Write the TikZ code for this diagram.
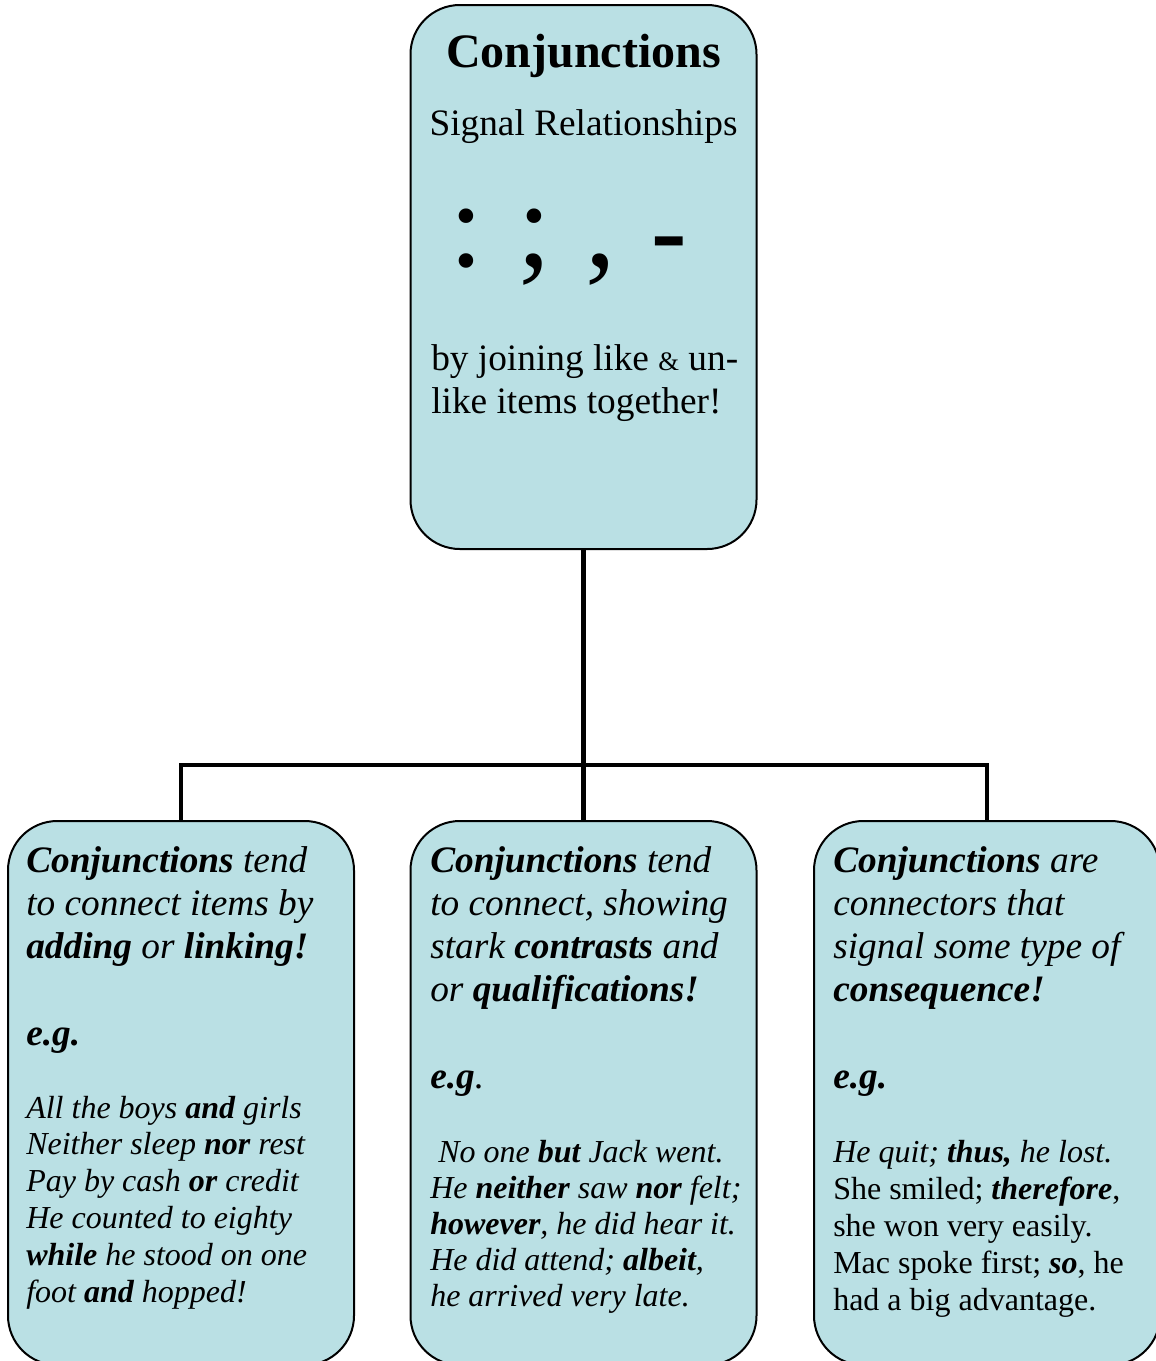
\documentclass[tikz,border=0pt]{standalone}
\usepackage{fontspec}
\setmainfont{Liberation Serif}
\definecolor{boxfill}{RGB}{186,224,228}
\begin{document}
\begin{tikzpicture}[x=0.75pt,y=-0.75pt,
  box/.style={draw=black, line width=1.5pt, fill=boxfill, rounded corners=37pt,
    minimum width=259.5pt, minimum height=408pt, inner sep=0pt},
  conn/.style={line width=3.5pt, line join=miter},
  txt/.style={anchor=base west, inner sep=0pt, text width=245pt, align=flush left},
  ctr/.style={anchor=base, inner sep=0pt},
  punct/.style={anchor=base, inner sep=0pt, font=\fontsize{92}{100}\selectfont},
  big/.style={font=\fontsize{28}{32.25}\selectfont},
  head/.style={font=\fontsize{28}{32.25}\selectfont\itshape},
  eg/.style={font=\fontsize{28}{32.25}\selectfont\bfseries\itshape},
  ex/.style={font=\fontsize{24}{27.6}\selectfont\itshape},
  exr/.style={font=\fontsize{24}{27.75}\selectfont}]
\useasboundingbox (0,0) rectangle (1156,1361);
\clip (0,0) rectangle (1156,1361);

% boxes
\node[box] (top) at (583.5,277) {};
\node[box] (left) at (181,1093) {};
\node[box] (mid) at (583.5,1093) {};
\node[box] (right) at (987,1093) {};

% connectors
\coordinate (jn) at (583.5,765);
\draw[conn] (top.south) -- (mid.north);
\draw[conn] (left.north) -- (left.north |- jn) -- (right.north |- jn) -- (right.north);

% top box text
\node[ctr, font=\fontsize{36}{40}\selectfont\bfseries] (title) at (583.5,67) {Conjunctions};
\node[ctr, big] (sub) at (583.5,135) {Signal Relationships};
\node[punct] (colon) at (467,266) {:};
\node[punct] (semi) at (535,266) {;};
\node[punct] (comma) at (601,266) {,};
\node[punct, font=\fontsize{80}{90}\selectfont\bfseries] (hyph) at (669.5,266) {-};
\node[txt, big] (join) at (431,370) {by joining like {\fontsize{20}{24}\selectfont\&} un-\\like items together!};

% left box
\node[txt, head] (lhead) at (26,872) {\textbf{Conjunctions} tend\\to connect items by\\\textbf{adding} or \textbf{linking!}};
\node[txt, eg] (leg) at (26,1045) {e.g.};
\node[txt, ex] (lex) at (26,1118) {All the boys \textbf{and} girls\\Neither sleep \textbf{nor} rest\\Pay by cash \textbf{or} credit\\He counted to eighty\\\textbf{while} he stood on one\\foot \textbf{and} hopped!};

% middle box
\node[txt, head] (mhead) at (430,872) {\textbf{Conjunctions} tend\\to connect, showing\\stark \textbf{contrasts} and\\or \textbf{qualifications!}};
\node[txt, head] (meg) at (430,1088) {\textbf{e.g}.};
\node[txt, font=\fontsize{24}{27}\selectfont\itshape] (mex) at (430,1162) {\hspace*{6pt}No one \textbf{but} Jack went.\\He \textbf{neither} saw \textbf{nor} felt;\\\textbf{however}, he did hear it.\\He did attend; \textbf{albeit},\\he arrived very late.};

% right box
\node[txt, head] (rhead) at (833,872) {\textbf{Conjunctions} are\\connectors that\\signal some type of\\\textbf{consequence!}};
\node[txt, eg] (reg) at (833,1088) {e.g.};
\node[txt, exr] (rex) at (833,1162) {\textit{He quit; \textbf{thus,} he lost.}\\She smiled; \textbf{\textit{therefore}},\\she won very easily.\\Mac spoke first; \textbf{\textit{so}}, he\\had a big advantage.};
\end{tikzpicture}
\end{document}
